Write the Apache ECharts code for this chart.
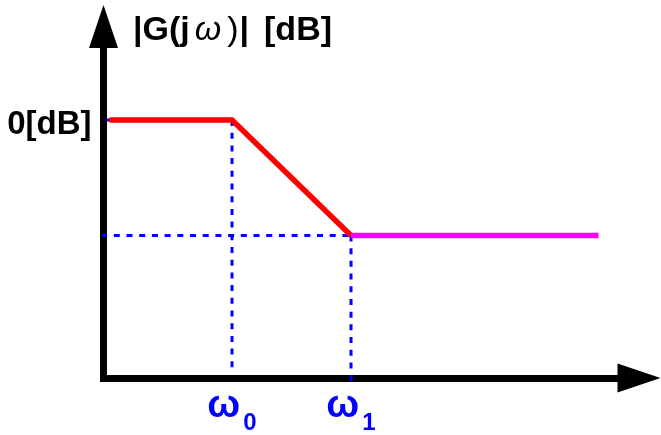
<!DOCTYPE html>
<html>
<head>
<meta charset="utf-8">
<script src="https://cdn.jsdelivr.net/npm/echarts@6/dist/echarts.min.js"></script>
<style>
html, body { margin: 0; padding: 0; background: #fff; }
#chart { width: 661px; height: 435px; }
</style>
</head>
<body>
<div id="chart"></div>
<script>
// Asymptotic gain plot of a lag element.
// x: frequency in decades relative to ω0; y: gain in dB.
const breakFreqs = [0, 1];                 // ω0, ω1
const breakSubscripts = ['0', '1'];        // subscripts under the axis
const gainTicks = [0];                     // labelled gain level
const gainTickLabels = ['0[dB]'];
const lowBand = [[-1.03, 0], [0, 0], [1, -20]];   // flat, then -20 dB/dec
const highBand = [[1, -20], [3.08, -20]];         // flat above ω1

// dashed guide lines
const guideZero = [[-1.05, 0], [0, 0]];
const guideW0 = [[0, 0], [0, -43.2]];
const guideLow = [[-1.1, -20], [1, -20]];
const guideW1 = [[1, -20], [1, -45.3]];

const chart = echarts.init(document.getElementById('chart'), null, { renderer: 'canvas' });

const FONT = 'Liberation Sans, Arial, sans-serif';
const BLUE = '#0000ff';

function guide(data) {
  return {
    type: 'line', data: data, symbol: 'none', silent: true, clip: false, z: 2,
    lineStyle: { color: BLUE, width: 3, type: [6, 6.7], cap: 'butt' }
  };
}

chart.setOption({
  animation: false,
  backgroundColor: '#fff',
  title: {
    left: 133, top: 14, padding: 0,
    text: '{b||G(j}{w|ω}{n|)}{b||}{c|[dB]}',
    textStyle: {
      fontFamily: FONT, fontSize: 34, fontWeight: 'bold', color: '#000',
      rich: {
        b: { fontFamily: FONT, fontSize: 34, fontWeight: 'bold', color: '#000' },
        w: { fontFamily: FONT, fontSize: 34, fontWeight: 'normal', fontStyle: 'italic', color: '#000', padding: [0, 6, 0, 5] },
        n: { fontFamily: FONT, fontSize: 34, fontWeight: 'normal', color: '#000', padding: [0, 1, 0, 0] },
        c: { fontFamily: FONT, fontSize: 34, fontWeight: 'bold', color: '#000', padding: [0, 0, 0, 15] }
      }
    }
  },
  grid: { left: 103.5, right: 22, top: 26.5, bottom: 53.5, containLabel: false },
  xAxis: {
    type: 'value', min: -1.08, max: 3.42,
    axisLine: {
      show: true, onZero: false,
      symbol: ['none', 'triangle'], symbolSize: [29, 43],
      lineStyle: { color: '#000', width: 7, cap: 'square' }
    },
    axisTick: { show: false },
    splitLine: { show: false },
    axisLabel: {
      customValues: breakFreqs,
      margin: 9,
      formatter: function (v) {
        const i = breakFreqs.indexOf(v);
        return '{w|ω}{s|' + breakSubscripts[i] + '}';
      },
      rich: {
        w: { fontFamily: FONT, fontSize: 39, fontWeight: 'bold', color: BLUE, verticalAlign: 'bottom' },
        s: { fontFamily: FONT, fontSize: 24, fontWeight: 'bold', color: BLUE, verticalAlign: 'bottom', padding: [0, 0, -9, 3] }
      }
    }
  },
  yAxis: {
    type: 'value', min: -44.7, max: 16.2,
    axisLine: {
      show: true, onZero: false,
      symbol: ['none', 'triangle'], symbolSize: [29, 43],
      lineStyle: { color: '#000', width: 7, cap: 'square' }
    },
    axisTick: { show: false },
    splitLine: { show: false },
    axisLabel: {
      customValues: gainTicks,
      margin: 12,
      formatter: function (v) { return gainTickLabels[gainTicks.indexOf(v)]; },
      fontFamily: FONT, fontSize: 33, fontWeight: 'bold', color: '#000',
      verticalAlign: 'top', lineHeight: 10
    }
  },
  series: [
    guide(guideZero),
    guide(guideW0),
    guide(guideLow),
    guide(guideW1),
    {
      type: 'line', data: lowBand, symbol: 'none', z: 3,
      lineStyle: { color: '#ff0000', width: 5.5, join: 'miter', cap: 'butt' }
    },
    {
      type: 'line', data: highBand, symbol: 'none', z: 3,
      lineStyle: { color: '#ff00ff', width: 5.5, cap: 'butt' }
    }
  ]
});
</script>
</body>
</html>
